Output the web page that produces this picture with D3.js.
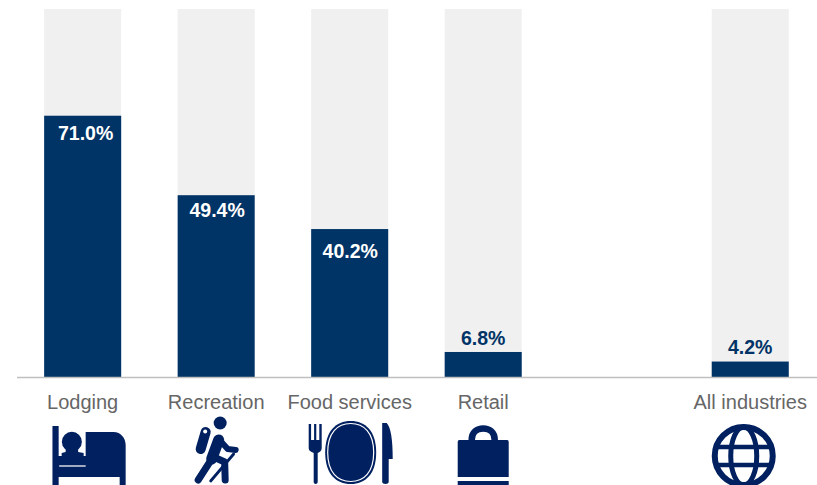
<!DOCTYPE html>
<html>
<head>
<meta charset="utf-8">
<script src="https://cdn.jsdelivr.net/npm/d3@7/dist/d3.min.js"></script>
<style>
html,body{margin:0;padding:0;background:#fff}
svg{display:block}
text{font-family:"Liberation Sans",Arial,sans-serif}
</style>
</head>
<body>
<div id="chart"></div>
<script>
// Share of workers by industry, with an empty slot before the all-industries bar
const slots = ["Lodging", "Recreation", "Food services", "Retail", "", "All industries"];
const categories = ["Lodging", "Recreation", "Food services", "Retail", "All industries"];
const values = [71.0, 49.4, 40.2, 6.8, 4.2];
const icons = ["bed", "hiker", "plate", "bag", "globe"];

const width = 817, height = 485;
const navy = "#003366", iconNavy = "#002060";

const svg = d3.select("#chart").append("svg")
  .attr("width", width).attr("height", height);

const x = d3.scaleBand().domain(slots).range([15.9, 817]).paddingInner(0.423).paddingOuter(0.2115);
const y = d3.scaleLinear().domain([0, 100]).range([377, 9]);

const data = categories.map((c, i) => ({ c, v: values[i], icon: icons[i] }));
const cx = d => x(d.c) + x.bandwidth() / 2;

// Hand placement of the value labels relative to their default spot
const labelShift = {
  "Lodging": [3, 0],
  "Recreation": [1, -2],
  "Food services": [0.5, 5],
  "Retail": [0, 0],
  "All industries": [0, -1]
};

// Full-height background columns
svg.selectAll("rect.bg").data(data).join("rect")
  .attr("class", "bg")
  .attr("x", d => x(d.c)).attr("width", x.bandwidth())
  .attr("y", y(100)).attr("height", y(0) - y(100))
  .attr("fill", "#f0f0f0");

// Value bars
svg.selectAll("rect.val").data(data).join("rect")
  .attr("class", "val")
  .attr("x", d => x(d.c)).attr("width", x.bandwidth())
  .attr("y", d => y(d.v)).attr("height", d => y(0) - y(d.v))
  .attr("fill", navy);

// Value labels: inside tall bars, above short ones
svg.selectAll("text.val").data(data).join("text")
  .attr("class", "val")
  .attr("x", d => cx(d) + labelShift[d.c][0])
  .attr("y", d => (d.v > 10 ? y(d.v) + 24 : y(d.v) - 7) + labelShift[d.c][1])
  .attr("text-anchor", "middle")
  .attr("font-size", 19.5).attr("font-weight", "bold")
  .attr("fill", d => d.v > 10 ? "#fff" : navy)
  .text(d => d.v.toFixed(1) + "%");

// Baseline
svg.append("line")
  .attr("x1", 17).attr("x2", width).attr("y1", 377.5).attr("y2", 377.5)
  .attr("stroke", "#bfbfbf").attr("stroke-width", 1.5);

// Category names
svg.selectAll("text.cat").data(data).join("text")
  .attr("class", "cat")
  .attr("x", cx)
  .attr("y", 409)
  .attr("text-anchor", "middle")
  .attr("font-size", 20)
  .attr("fill", "#666666")
  .text(d => d.c);

// Pictograms, drawn in a local frame whose origin sits 455px down the column centre
const drawIcon = {
  bed(g) {
    // headboard, mattress and blanket
    g.append("path").attr("fill", iconNavy).attr("d",
      "M-36.2,-29 H-30 V1 H-3 V-23 H25 C32,-23 37,-17 37,-10 V30 H31 V22 H-30 V30 H-36.2 Z");
    // sleeper's head and shoulders
    g.append("circle").attr("cx", -16.8).attr("cy", -13.3).attr("r", 10).attr("fill", iconNavy);
    g.append("path").attr("fill", iconNavy).attr("d",
      "M-23,-7 V-3 L-27,-2 V1 H-5 V-2 L-10.5,-3 V-7 Z");
    g.append("line").attr("x1", -29.5).attr("x2", -3).attr("y1", 11).attr("y2", 11)
      .attr("stroke", "#c9ced9").attr("stroke-width", 1.6);
  },
  hiker(g) {
    const limb = (w, d) => g.append("path").attr("fill", "none").attr("stroke", iconNavy)
      .attr("stroke-width", w).attr("stroke-linecap", "round").attr("stroke-linejoin", "round").attr("d", d);
    g.append("circle").attr("cx", 3.5).attr("cy", -32).attr("r", 6.5).attr("fill", iconNavy);
    limb(10, "M-11,-23 L-16,-6");
    g.append("circle").attr("cx", -11.5).attr("cy", -23.5).attr("r", 2).attr("fill", "#fff");
    limb(11, "M2,-15 L-5,4");
    limb(7, "M-5,4 L-18.5,25");
    limb(7, "M-3,2 L8,7 L8.5,25");
    limb(6, "M2,-16 L11,-6 L19,-5");
    limb(2.8, "M17,-1 L-6,26");
  },
  plate(g) {
    // fork
    g.append("path").attr("fill", iconNavy).attr("d",
      "M-42,-31 H-39.6 V-15 H-36.6 V-31 H-34.4 V-15 H-31.4 V-31 H-29 V-7 C-29,-4 -31,-3 -33,-2 V27 C-33,29.5 -37,29.5 -37,27 V-2 C-39,-3 -42,-4 -42,-7 Z");
    // plate with its inner rim
    const ring = (rx, ry) => `M${-rx},-2.5 C${-rx},${-2.5 - ry * 0.68} ${-rx * 0.58},${-2.5 - ry} 0,${-2.5 - ry} C${rx * 0.58},${-2.5 - ry} ${rx},${-2.5 - ry * 0.68} ${rx},-2.5 C${rx},${-2.5 + ry * 0.68} ${rx * 0.58},${-2.5 + ry} 0,${-2.5 + ry} C${-rx * 0.58},${-2.5 + ry} ${-rx},${-2.5 + ry * 0.68} ${-rx},-2.5 Z`;
    g.append("path").attr("fill", iconNavy).attr("d", ring(25.5, 31.5));
    g.append("path").attr("fill", "none").attr("stroke", "#fff").attr("stroke-width", 1.2).attr("d", ring(23, 29));
    // knife
    g.append("path").attr("fill", iconNavy).attr("d",
      "M31.5,-32 H36 C40,-28 42,-16 42,4 H38 V27 C38,29.5 31.5,29.5 31.5,27 Z");
  },
  bag(g) {
    g.append("path").attr("fill", "none").attr("stroke", iconNavy).attr("stroke-width", 6.5)
      .attr("d", "M-11.5,-13 V-15 C-11.5,-23 -6,-26.5 0,-26.5 C6,-26.5 11.5,-23 11.5,-15 V-13");
    g.append("path").attr("fill", iconNavy).attr("d",
      "M-24,-15 Q-25.5,-15 -25.5,-13 V22 H25.5 V-13 Q25.5,-15 24,-15 Z M-25.5,26 V30 H25.5 V26 Z");
  },
  globe(g) {
    const r = 29;
    g.append("circle").attr("cy", 1).attr("r", r).attr("fill", "none").attr("stroke", iconNavy).attr("stroke-width", 6);
    g.append("ellipse").attr("cy", 1).attr("rx", 13).attr("ry", r).attr("fill", "none").attr("stroke", iconNavy).attr("stroke-width", 5);
    [-8, 10].forEach(dy => {
      g.append("line").attr("x1", -r).attr("x2", r).attr("y1", dy).attr("y2", dy)
        .attr("stroke", iconNavy).attr("stroke-width", 4.5);
    });
  }
};

// Sideways offset of each pictogram from its column centre
const iconDx = { bed: 6, hiker: 0.5, plate: 1, bag: 0, globe: -6.5 };
data.forEach(d => {
  const g = svg.append("g")
    .attr("transform", `translate(${cx(d) + iconDx[d.icon]},455)`);
  drawIcon[d.icon](g);
});
</script>
</body>
</html>
